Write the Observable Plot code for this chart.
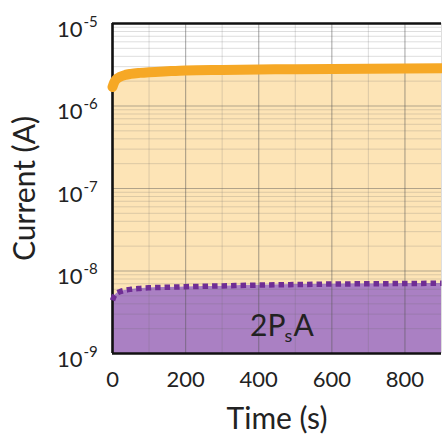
<!DOCTYPE html>
<html>
<head>
<meta charset="utf-8">
<script src="https://cdn.jsdelivr.net/npm/d3@7"></script>
<script src="https://cdn.jsdelivr.net/npm/@observablehq/plot@0.6"></script>
<style>
  html, body { margin: 0; padding: 0; background: white; }
</style>
</head>
<body>
<div id="chart"></div>
<script>
// Time (s)
const time = [0, 5, 10, 20, 35, 50, 75, 100, 150, 200, 300, 400, 500, 600, 700, 800, 900];
// Upper (orange) current trace, A
const currentUpper = [1.70e-6, 1.95e-6, 2.10e-6, 2.25e-6, 2.38e-6, 2.45e-6, 2.52e-6, 2.57e-6, 2.64e-6, 2.70e-6, 2.74e-6, 2.77e-6, 2.79e-6, 2.81e-6, 2.83e-6, 2.85e-6, 2.87e-6];
// Lower (purple, 2PsA) current trace, A
const currentLower = [4.4e-9, 5.0e-9, 5.3e-9, 5.6e-9, 5.85e-9, 6.0e-9, 6.15e-9, 6.25e-9, 6.35e-9, 6.45e-9, 6.6e-9, 6.75e-9, 6.85e-9, 6.95e-9, 7.0e-9, 7.05e-9, 7.1e-9];

const xTicks = [0, 200, 400, 600, 800];
const xMinorGrid = [100, 300, 500, 700, 900];
const yTicks = [1e-9, 1e-8, 1e-7, 1e-6, 1e-5];
const yTickExponents = ["-9", "-8", "-7", "-6", "-5"];
const yMinorGrid = [];
for (const d of [1e-9, 1e-8, 1e-7, 1e-6]) for (let k = 2; k <= 9; k++) yMinorGrid.push(d * k);

const seriesLabel = {x: 473, y: 1.65e-9};
const yFloor = 1e-9;

const rows = time.map((t, i) => ({t, upper: currentUpper[i], lower: currentLower[i]}));

const font = "Lato, 'DejaVu Sans', sans-serif";

const chart = Plot.plot({
  width: 442,
  height: 434,
  marginLeft: 112,
  marginRight: 1,
  marginTop: 23,
  marginBottom: 81,
  style: {fontFamily: font, background: "white", color: "#222"},
  x: {domain: [0, 900], axis: null},
  y: {type: "log", domain: [1e-9, 1e-5], axis: null},
  marks: [
    Plot.areaY(rows, {x: "t", y1: yFloor, y2: "lower", fill: "#aa80c3", curve: "monotone-x"}),
    Plot.areaY(rows, {x: "t", y1: "lower", y2: "upper", fill: "#fde4b6", curve: "monotone-x"}),
    Plot.ruleY(yMinorGrid, {stroke: "#6b6b6b", strokeOpacity: 0.22, strokeWidth: 1}),
    Plot.ruleX(xMinorGrid, {stroke: "#6b6b6b", strokeOpacity: 0.22, strokeWidth: 1}),
    Plot.ruleY(yTicks, {stroke: "#555", strokeOpacity: 0.45, strokeWidth: 1.2}),
    Plot.ruleX(xTicks, {stroke: "#555", strokeOpacity: 0.45, strokeWidth: 1.2}),
    Plot.ruleX([0], {stroke: "#111", strokeWidth: 2.6}),
    Plot.ruleY([1e-9, 1e-5], {stroke: "#111", strokeWidth: 2.6}),
    Plot.lineY(rows, {x: "t", y: "lower", stroke: "#6f2d94", strokeWidth: 5.5, strokeDasharray: "5.5,4", strokeLinecap: "butt", curve: "monotone-x"}),
    Plot.lineY(rows, {x: "t", y: "upper", stroke: "#f6a825", strokeWidth: 10, strokeLinecap: "round", curve: "monotone-x"}),
    Plot.axisX(xTicks, {tickSize: 0, tickPadding: 18, fontSize: 22, label: null, tickFormat: d => String(d)}),
    Plot.axisY([], {anchor: "left", label: "Current (A)", labelAnchor: "center", labelArrow: "none", labelOffset: 99, fontSize: 30, tickSize: 0}),
    Plot.text(yTicks, {y: d => d, frameAnchor: "left", text: () => "10", textAnchor: "end", lineAnchor: "bottom", dx: -30, dy: 13, fontSize: 22, fill: "#222"}),
    Plot.text(yTicks, {y: d => d, frameAnchor: "left", text: (d, i) => yTickExponents[i], textAnchor: "start", lineAnchor: "bottom", dx: -29, dy: 3, fontSize: 15, fill: "#222"}),
    Plot.text(["Time (s)"], {frameAnchor: "bottom", text: d => d, lineAnchor: "bottom", dy: 75, fontSize: 30, fill: "#222"}),
    Plot.text([seriesLabel], {x: "x", y: "y", text: () => "2P", textAnchor: "end", lineAnchor: "bottom", fontSize: 30, fill: "#222"}),
    Plot.text([seriesLabel], {x: "x", y: "y", text: () => "s", textAnchor: "start", lineAnchor: "bottom", dx: -1, dy: 6, fontSize: 18, fill: "#222"}),
    Plot.text([seriesLabel], {x: "x", y: "y", text: () => "A", textAnchor: "start", lineAnchor: "bottom", dx: 8, fontSize: 30, fill: "#222"})
  ]
});

document.getElementById("chart").appendChild(chart);
</script>
</body>
</html>
